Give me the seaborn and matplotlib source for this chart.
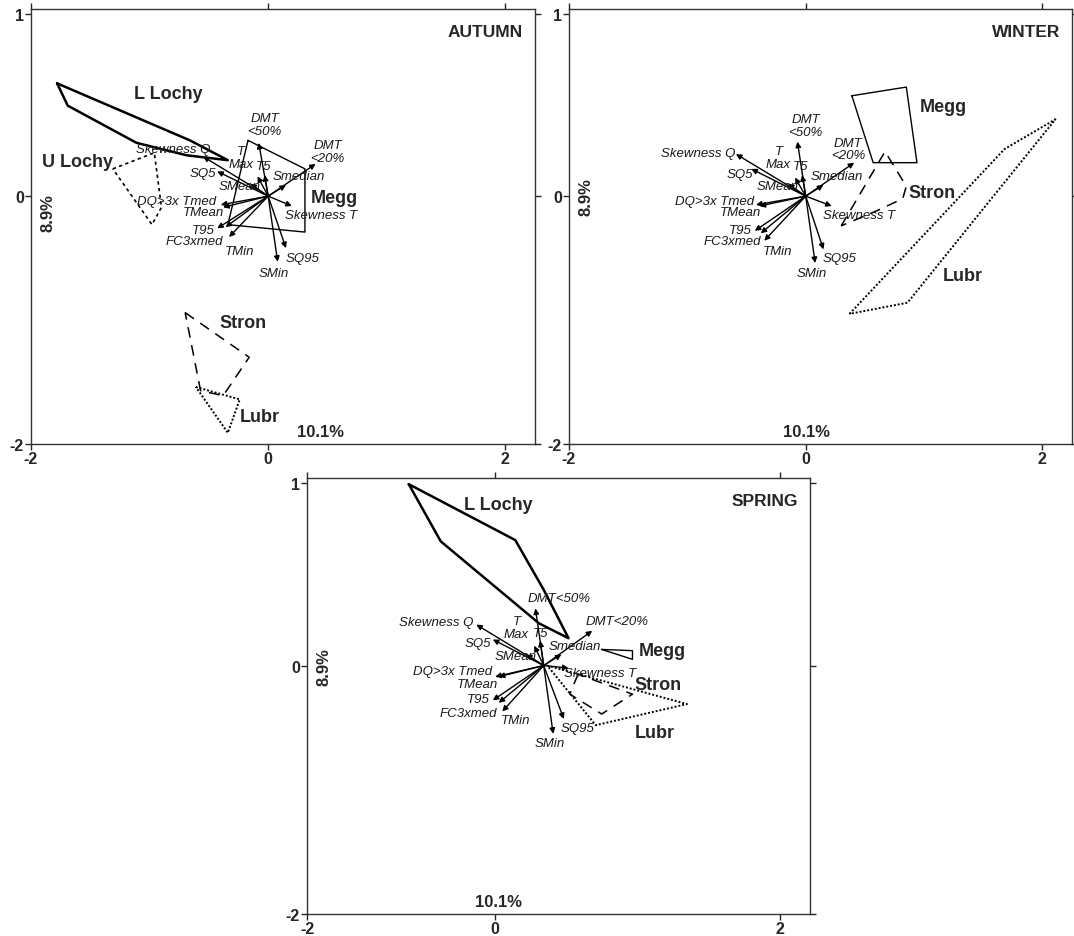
import matplotlib
matplotlib.use("Agg")
import matplotlib.pyplot as plt
import seaborn as sns
import pandas as pd

# Environmental variables drawn as arrows from the origin
VARIABLES = ["Skewness Q", "SQ5", "TMax", "T5", "SMean", "DMT<50%", "DMT<20%",
             "Smedian", "DQ>3x Tmed", "TMean", "T95", "FC3xmed", "TMin",
             "Skewness T", "SQ95", "SMin"]

# Arrow tips (axis 1, axis 2) per season
AUTUMN_ARROW_X = [-0.55, -0.43, -0.09, -0.03, -0.15, -0.08, 0.40, 0.15,
                  -0.40, -0.38, -0.43, -0.36, -0.33, 0.20, 0.15, 0.08]
AUTUMN_ARROW_Y = [0.32, 0.20, 0.16, 0.17, 0.10, 0.43, 0.26, 0.09,
                  -0.07, -0.09, -0.26, -0.25, -0.33, -0.08, -0.42, -0.53]
WINTER_ARROW_X = [-0.59, -0.46, -0.09, -0.03, -0.15, -0.07, 0.41, 0.15,
                  -0.42, -0.39, -0.43, -0.38, -0.35, 0.22, 0.15, 0.08]
WINTER_ARROW_Y = [0.34, 0.22, 0.15, 0.17, 0.10, 0.44, 0.27, 0.09,
                  -0.07, -0.08, -0.28, -0.30, -0.36, -0.08, -0.43, -0.54]
SPRING_ARROW_X = [-0.57, -0.43, -0.08, -0.03, -0.15, -0.07, 0.41, 0.15,
                  -0.41, -0.38, -0.43, -0.38, -0.35, 0.21, 0.17, 0.08]
SPRING_ARROW_Y = [0.33, 0.21, 0.16, 0.20, 0.09, 0.46, 0.28, 0.09,
                  -0.09, -0.09, -0.28, -0.30, -0.37, -0.02, -0.43, -0.55]

# Site envelopes (polygon vertices) per season
AUT_LLOCHY_X = [-1.78, -0.66, -0.34, -0.69, -1.11, -1.69]
AUT_LLOCHY_Y = [0.91, 0.45, 0.29, 0.33, 0.43, 0.73]
AUT_ULOCHY_X = [-1.31, -0.96, -0.90, -0.98]
AUT_ULOCHY_Y = [0.22, 0.35, -0.09, -0.23]
AUT_MEGG_X = [-0.17, 0.31, 0.31, -0.34]
AUT_MEGG_Y = [0.45, 0.22, -0.29, -0.23]
AUT_STRON_X = [-0.70, -0.16, -0.38, -0.57]
AUT_STRON_Y = [-0.94, -1.30, -1.61, -1.57]
AUT_LUBR_X = [-0.61, -0.24, -0.34]
AUT_LUBR_Y = [-1.54, -1.64, -1.91]

WIN_MEGG_X = [0.39, 0.85, 0.94, 0.57]
WIN_MEGG_Y = [0.81, 0.88, 0.27, 0.27]
WIN_STRON_X = [0.30, 0.67, 0.85, 0.82, 0.62]
WIN_STRON_Y = [-0.24, 0.36, 0.08, -0.02, -0.11]
WIN_LUBR_X = [0.37, 1.68, 2.11, 0.86]
WIN_LUBR_Y = [-0.95, 0.38, 0.62, -0.86]

SPR_LLOCHY_X = [-1.14, -0.24, 0.00, 0.21, -0.04, -0.87]
SPR_LLOCHY_Y = [1.46, 1.01, 0.61, 0.22, 0.34, 1.00]
SPR_MEGG_X = [0.49, 0.75, 0.75]
SPR_MEGG_Y = [0.13, 0.12, 0.05]
SPR_STRON_X = [0.29, 0.22, 0.49, 0.75]
SPR_STRON_Y = [-0.07, -0.23, -0.39, -0.23]
SPR_LUBR_X = [0.03, 1.21, 0.44]
SPR_LUBR_Y = [0.00, -0.31, -0.48]

AXIS1_LABEL = "10.1%"
AXIS2_LABEL = "8.9%"
X_TICK_LABELS = ["-2", "0", "2"]
Y_TICK_LABELS = ["-2", "0", "1"]

sns.set_theme(style="ticks")
plt.rcParams["font.family"] = ["Liberation Sans", "DejaVu Sans"]

# line style of each site envelope
SITE_STYLE = {
    "L Lochy": dict(ls="-", lw=1.8),
    "U Lochy": dict(ls=(0, (2, 2)), lw=1.2),
    "Megg": dict(ls="-", lw=1.0),
    "Stron": dict(ls=(0, (7, 5)), lw=1.1),
    "Lubr": dict(ls=(0, (1, 1)), lw=1.4),
}

# label positions (layout only)
AW_LABELS = {
    "Skewness Q": (-0.80, 0.38), "SQ5": (-0.55, 0.19), "TMax": (-0.23, 0.31),
    "T5": (-0.04, 0.24), "SMean": (-0.24, 0.08), "DMT<50%": (-0.03, 0.58),
    "DMT<20%": (0.50, 0.36), "Smedian": (0.26, 0.16), "DQ>3x Tmed": (-0.77, -0.04),
    "TMean": (-0.55, -0.13), "T95": (-0.55, -0.27), "FC3xmed": (-0.62, -0.36),
    "TMin": (-0.24, -0.44), "Skewness T": (0.45, -0.15), "SQ95": (0.29, -0.50),
    "SMin": (0.05, -0.62),
}
WIN_LABELS = dict(AW_LABELS)
WIN_LABELS.update({"Skewness Q": (-0.91, 0.35), "DMT<50%": (0.0, 0.57),
                   "DMT<20%": (0.36, 0.38), "SQ5": (-0.56, 0.18)})
SPR_LABELS = dict(WIN_LABELS)
SPR_LABELS.update({"DMT<50%": (0.13, 0.54), "DMT<20%": (0.62, 0.36),
                   "Skewness T": (0.48, -0.06), "TMean": (-0.56, -0.15),
                   "FC3xmed": (-0.64, -0.38), "T5": (-0.03, 0.26)})


def label_text(name, season):
    if name == "TMax":
        return "T\nMax"
    if name.startswith("DMT") and season != "SPRING":
        return "DMT\n" + name[3:]
    return name


def draw_site(ax, name, xs, ys):
    df = pd.DataFrame({"x": list(xs) + [xs[0]], "y": list(ys) + [ys[0]]})
    st = SITE_STYLE[name]
    sns.lineplot(data=df, x="x", y="y", sort=False, estimator=None, ax=ax,
                 color="black", linewidth=st["lw"], linestyle=st["ls"])


def draw_panel(ax, season, ax_x, ax_y, sites, site_labels, var_labels, zero_at=0.0):
    for name, xs, ys in sites:
        draw_site(ax, name, xs, ys)
    for name, tx, ty in zip(VARIABLES, ax_x, ax_y):
        ax.annotate("", xy=(tx, ty), xytext=(0, 0),
                    arrowprops=dict(arrowstyle="-|>", color="black", lw=1.0,
                                    mutation_scale=8, shrinkA=0, shrinkB=0))
        lx, ly = var_labels[name]
        ax.text(lx, ly, label_text(name, season), fontsize=9.5, style="italic",
                ha="center", va="center", color="#1a1a1a", linespacing=1.1)
    for text, (lx, ly) in site_labels.items():
        ax.text(lx, ly, text, fontsize=13, fontweight="bold", ha="center", va="center")
    ax.text(2.15, 1.33, season, fontsize=12.5, fontweight="bold", ha="right", va="center")
    ax.set_xlim(-2, 2.25)
    ax.set_ylim(-2, 1.51)
    ax.set_xticks([-2, zero_at, 2])
    ax.set_xticklabels(X_TICK_LABELS)
    ax.set_yticks([-2, 0, 1.47])
    ax.set_yticklabels(Y_TICK_LABELS)
    ax.tick_params(direction="out", length=4, width=1, top=True, right=True,
                   labeltop=False, labelright=False, labelsize=11.5, pad=1)
    for lab in ax.get_xticklabels() + ax.get_yticklabels():
        lab.set_fontweight("bold")
    for sp in ax.spines.values():
        sp.set_visible(True)
        sp.set_linewidth(1.0)
        sp.set_color("#333333")
    ax.set_xlabel("")
    ax.set_ylabel("")


fig = plt.figure(figsize=(10.74, 9.37), dpi=100)
ax_a = fig.add_axes([31 / 1074, 1 - 445 / 937, 504 / 1074, 435 / 937])
ax_w = fig.add_axes([569 / 1074, 1 - 445 / 937, 503 / 1074, 435 / 937])
ax_s = fig.add_axes([307 / 1074, 1 - 915 / 937, 503 / 1074, 436 / 937])

draw_panel(ax_a, "AUTUMN", AUTUMN_ARROW_X, AUTUMN_ARROW_Y,
           [("L Lochy", AUT_LLOCHY_X, AUT_LLOCHY_Y), ("U Lochy", AUT_ULOCHY_X, AUT_ULOCHY_Y),
            ("Megg", AUT_MEGG_X, AUT_MEGG_Y), ("Stron", AUT_STRON_X, AUT_STRON_Y),
            ("Lubr", AUT_LUBR_X, AUT_LUBR_Y)],
           {"L Lochy": (-0.84, 0.83), "U Lochy": (-1.61, 0.28), "Megg": (0.56, -0.01),
            "Stron": (-0.21, -1.02), "Lubr": (-0.07, -1.78)},
           AW_LABELS)
draw_panel(ax_w, "WINTER", WINTER_ARROW_X, WINTER_ARROW_Y,
           [("Megg", WIN_MEGG_X, WIN_MEGG_Y), ("Stron", WIN_STRON_X, WIN_STRON_Y),
            ("Lubr", WIN_LUBR_X, WIN_LUBR_Y)],
           {"Megg": (1.16, 0.72), "Stron": (1.07, 0.03), "Lubr": (1.33, -0.64)},
           WIN_LABELS)
draw_panel(ax_s, "SPRING", SPRING_ARROW_X, SPRING_ARROW_Y,
           [("L Lochy", SPR_LLOCHY_X, SPR_LLOCHY_Y), ("Megg", SPR_MEGG_X, SPR_MEGG_Y),
            ("Stron", SPR_STRON_X, SPR_STRON_Y), ("Lubr", SPR_LUBR_X, SPR_LUBR_Y)],
           {"L Lochy": (-0.38, 1.30), "Megg": (1.00, 0.12), "Stron": (0.97, -0.15),
            "Lubr": (0.94, -0.54)},
           SPR_LABELS, zero_at=-0.41)

# axis explained-variance labels
for ax, x1, y2 in [(ax_a, 0.44, -0.13), (ax_w, 0.01, 0.0), (ax_s, -0.38, 0.0)]:
    ax.text(x1, -1.90, AXIS1_LABEL, fontsize=12, fontweight="bold", ha="center", va="center")
    ax.text(-1.86, y2, AXIS2_LABEL, fontsize=12, fontweight="bold", rotation=90,
            ha="center", va="center")

fig.savefig("out.png", dpi=100, facecolor="white")
